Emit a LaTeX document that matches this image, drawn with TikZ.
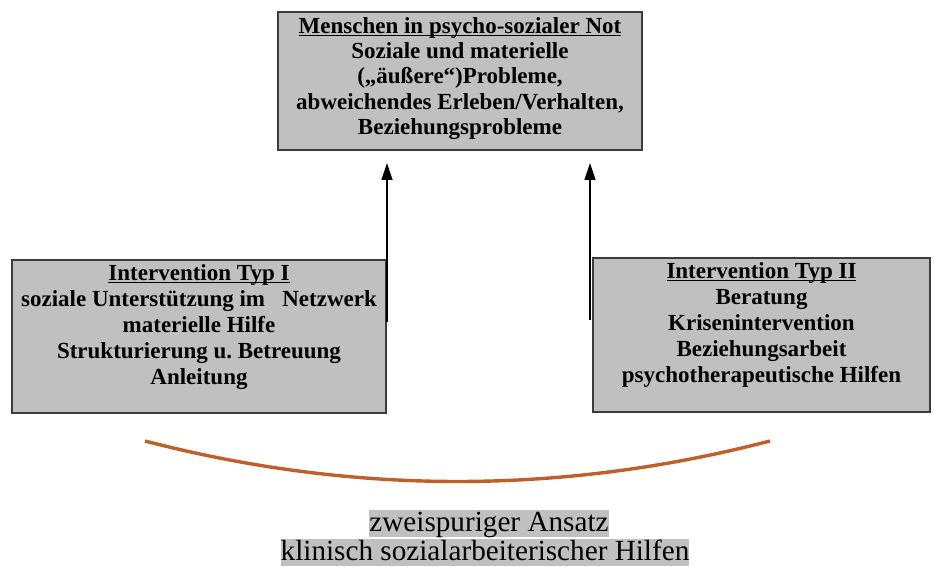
\documentclass[tikz,border=0pt]{standalone}
\usepackage{fontspec}
\setmainfont{Liberation Serif}
\usepackage{tikz}
\usetikzlibrary{arrows.meta,positioning,fit}
\usepackage{xcolor}

\definecolor{boxgray}{RGB}{192,192,192}
\definecolor{boxline}{RGB}{60,60,60}
\definecolor{bogen}{RGB}{192,96,40}
\newcommand{\titelul}[1]{\setbox0\hbox{#1}\rlap{\rule[-1.3pt]{\wd0}{0.45pt}}\box0}

\begin{document}
\begin{tikzpicture}[x=0.5pt,y=-0.5pt]
	\useasboundingbox (0,0) rectangle (934,567);
	\begin{scope}[every node/.style={draw=boxline,line width=0.75pt,fill=boxgray,align=center,inner sep=0pt}]
		\node[minimum width=182pt,minimum height=69pt,text depth=5pt,font=\bfseries\fontsize{11.5}{12.6}\selectfont] (not) at (460,81) {\titelul{Menschen in psycho-sozialer Not}\\Soziale und materielle\\(„äußere“)Probleme,\\abweichendes Erleben/Verhalten,\\Beziehungsprobleme};
		\node[minimum width=187pt,minimum height=76.5pt,text depth=12pt,font=\bfseries\fontsize{11.5}{13}\selectfont] (typI) at (199,336.5) {\titelul{Intervention Typ I}\\soziale Unterstützung im\ \ \ Netzwerk\\materielle Hilfe\\Strukturierung u.\ Betreuung\\Anleitung};
		\node[minimum width=168.5pt,minimum height=77pt,text depth=12.5pt,font=\bfseries\fontsize{11.5}{13}\selectfont] (typII) at (761.5,335) {\titelul{Intervention Typ II}\\Beratung\\Krisenintervention\\Beziehungsarbeit\\psychotherapeutische Hilfen};
	\end{scope}
	\coordinate (typIup) at (387,322);
	\coordinate (notL) at (387,163);
	\coordinate (typIIup) at (590,320);
	\coordinate (notR) at (590,163);
	\begin{scope}[line width=0.7pt]
		\draw[-{Triangle[length=8.5pt,width=5.5pt]}] (typIup) -- (notL);
		\draw[-{Triangle[length=8.5pt,width=5.5pt]}] (typIIup) -- (notR);
	\end{scope}
	\coordinate (bogenL) at (145,441);
	\coordinate (bogenR) at (770,441);
	\draw[bogen,line width=1.7pt] (bogenL) .. controls (353,495) and (562,495) .. (bogenR);
	\begin{scope}[every node/.style={fill=boxgray,inner sep=0pt,text height=10.5pt,text depth=3pt,font=\fontsize{14.6}{15}\selectfont}]
		\node (ansatz) at (489,523.5) {zweispuriger Ansatz\ };
		\node (hilfen) at (485,553) {klinisch sozialarbeiterischer Hilfen};
	\end{scope}
\end{tikzpicture}
\end{document}
